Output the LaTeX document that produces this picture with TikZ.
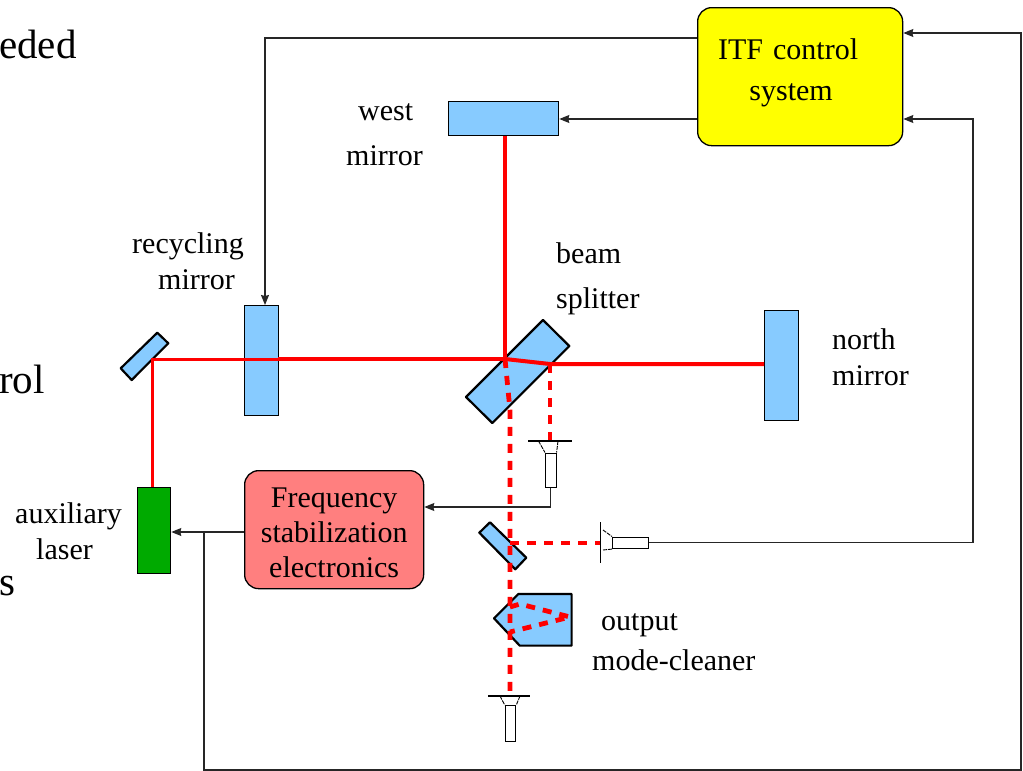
\documentclass[tikz,border=0pt]{standalone}
\usepackage{fontspec}
\setmainfont{Liberation Serif}
\usetikzlibrary{arrows.meta}
\definecolor{optic}{HTML}{87CBFF}
\definecolor{ctrl}{HTML}{FFFF00}
\definecolor{elec}{HTML}{FF7F7F}
\definecolor{lasergreen}{HTML}{00AA00}
\definecolor{beamred}{HTML}{FF0000}
\tikzset{
  x=1pt,y=-1pt,
  optbox/.style={draw=black,line width=1.3pt,fill=optic,inner sep=0pt,anchor=north west},
  optpoly/.style={draw=black,line width=2.2pt,fill=optic,line join=round},
  ctrlbox/.style={draw=black,line width=1.3pt,rounded corners=14pt,inner sep=0pt,anchor=north west,align=center,text width=#1},
  ctrlbox/.default=100pt,
  wire/.style={draw=black!85,line width=1.1pt},
  feed/.style={wire,-{Stealth[length=10pt,width=8pt,inset=1pt]}},
  beamthick/.style={draw=beamred,line width=4.5pt},
  beamthin/.style={draw=beamred,line width=3pt},
  beamdash/.style={draw=beamred,line width=4.8pt,dash pattern=on 9pt off 8pt,line join=bevel},
  det/.style={draw=black,line width=1.1pt,fill=white,inner sep=0pt,anchor=north west},
  detfoot/.style={draw=black,line width=.9pt,dash pattern=on 4pt off 1pt},
  lbl/.style={font=\fontsize{30}{36}\selectfont,inner sep=0pt,align=left,text=black},
  cut/.style={font=\fontsize{41}{44}\selectfont,inner sep=0pt,anchor=base west,text=black},
}
\begin{document}
\begin{tikzpicture}
\useasboundingbox (0,0) rectangle (1023,771);
% clipped slide text
\node[cut] (t1) at (-1,58) {eded};
\node[cut] (t2) at (-1,393) {rol};
\node[cut] (t3) at (-1,595) {s};

% optics
\coordinate (bsA) at (543,320);
\coordinate (bsB) at (569.3,346);
\coordinate (bsC) at (492.3,423);
\coordinate (bsD) at (466,397);
\filldraw[optpoly] (bsA)--(bsB)--(bsC)--(bsD)--cycle;
\coordinate (smA) at (157.3,332.7);
\coordinate (smB) at (168.3,343.3);
\coordinate (smC) at (131.7,380);
\coordinate (smD) at (120.7,368.3);
\filldraw[optpoly] (smA)--(smB)--(smC)--(smD)--cycle;
\coordinate (lmA) at (490,522.3);
\coordinate (lmB) at (526.3,557.7);
\coordinate (lmC) at (515.3,569.3);
\coordinate (lmD) at (479.3,532.7);
\filldraw[optpoly] (lmA)--(lmB)--(lmC)--(lmD)--cycle;
\coordinate (omA) at (518.3,594);
\coordinate (omB) at (571.6,594);
\coordinate (omC) at (571.6,645.6);
\coordinate (omD) at (519.7,645.6);
\coordinate (omE) at (494,618.3);
\filldraw[optpoly] (omA)--(omB)--(omC)--(omD)--(omE)--cycle;

\node[optbox,minimum width=34pt,minimum height=110pt] (recyc) at (244,305) {};
\node[optbox,minimum width=110pt,minimum height=34pt] (west) at (448,101) {};
\node[optbox,minimum width=34pt,minimum height=110pt] (north) at (764,310) {};
\node[optbox,fill=lasergreen,minimum width=33pt,minimum height=86pt] (laser) at (137,487) {};

% boxes
\node[ctrlbox=205pt,fill=ctrl,minimum height=138pt,font=\fontsize{30}{41}\selectfont,text depth=56pt] (itf) at (697,7) {\hspace*{-24pt}ITF control\\\hspace*{-18pt}system};
\node[ctrlbox=179pt,fill=elec,minimum height=118pt,font=\fontsize{30}{35}\selectfont,text depth=64pt] (freq) at (244,470) {Frequency\\stabilization\\electronics};

% beam points
\coordinate (bsIn) at (505,359);
\coordinate (bsOut) at (550,364);
\coordinate (smHit) at (152.5,359);
\coordinate (recR) at (278,359);
\coordinate (bsInner) at (510,410);
\coordinate (det1top) at (550,441);
\coordinate (det3top) at (510,697);
\coordinate (lmHit) at (510,543);
\coordinate (det2top) at (600,543);
\coordinate (omU) at (510,607);
\coordinate (omM) at (520,604);
\coordinate (omR) at (570,617);
\coordinate (omL) at (510,632);

% solid beams
\draw[beamthin] (laser.north -| smHit) -- (smHit) -- (recR);
\draw[beamthick] (recR) -- (bsIn);
\draw[beamthick] (west.south -| bsIn) -- (bsIn);
\draw[beamthick,line width=4pt] (bsIn) -- (bsOut) -- (north.west |- bsOut);

% dashed beams
\draw[beamdash] (bsIn) -- (bsInner) -- (det3top);
\draw[beamdash] (bsOut) -- (det1top);
\draw[beamdash] (lmHit) -- (det2top);
\draw[beamdash] (omU) -- (omM) -- (omR) -- (omL);

% detectors
\node[det,minimum width=10.5pt,minimum height=34.5pt] (d1) at (545,452.5) {};
\coordinate (d1a) at (528,441); \coordinate (d1b) at (572,441);
\draw[wire,draw=black] (d1a) -- (d1b);
\draw[detfoot] (538.5,441) -- (d1.north west);
\draw[detfoot] (558,441) -- (d1.north east);

\node[det,minimum width=10.5pt,minimum height=36pt] (d3) at (504.7,705) {};
\coordinate (d3a) at (488,696); \coordinate (d3b) at (530,696);
\draw[wire,draw=black] (d3a) -- (d3b);
\draw[detfoot] (500,696) -- (d3.north west);
\draw[detfoot] (520,696) -- (d3.north east);

\node[det,minimum width=36pt,minimum height=11.5pt] (d2) at (612,536.5) {};
\coordinate (d2a) at (600.5,522); \coordinate (d2b) at (600.5,563);
\draw[wire,draw=black] (d2a) -- (d2b);
\draw[detfoot] (603,530) -- (d2.north west);
\draw[detfoot] (603,550) -- (d2.south west);

% connectors
\coordinate (c1) at (265,38);
\coordinate (c2) at (973,119);
\coordinate (c3) at (204,532);
\coordinate (c4) at (204,770);
\coordinate (c5) at (1021,770);
\coordinate (c6) at (1021,33);
\coordinate (c7) at (550,507);
\draw[feed] (itf.west |- c1) -- (c1) -- (recyc.north -| c1);
\draw[feed] (itf.west |- c2) -- (west.east |- c2);
\draw[feed] (d2.east) -- (d2.east -| c2) -- (c2) -- (itf.east |- c2);
\draw[feed] (d1.south) -- (d1.south |- c7) -- (freq.east |- c7);
\draw[feed] (freq.west |- c3) -- (laser.east |- c3);
\draw[feed] (c3) -- (c4) -- (c5) -- (c6) -- (itf.east |- c6);

% labels
\node[lbl,anchor=north west] (lw) at (346,103) {\hspace*{12pt}west\\[9pt]mirror};
\node[lbl,anchor=north west] (lr) at (132,232.5) {recycling\\\hspace*{26pt}mirror};
\node[lbl,anchor=north west] (lb) at (556,242) {beam\\[9pt]splitter};
\node[lbl,anchor=north west] (ln) at (832,328) {north\\mirror};
\node[lbl,anchor=north west] (la) at (15,502) {auxiliary\\\hspace*{21pt}laser};
\node[lbl,anchor=north west] (lo) at (592,613) {\hspace*{9pt}output\\[4pt]mode-cleaner};
\end{tikzpicture}
\end{document}
